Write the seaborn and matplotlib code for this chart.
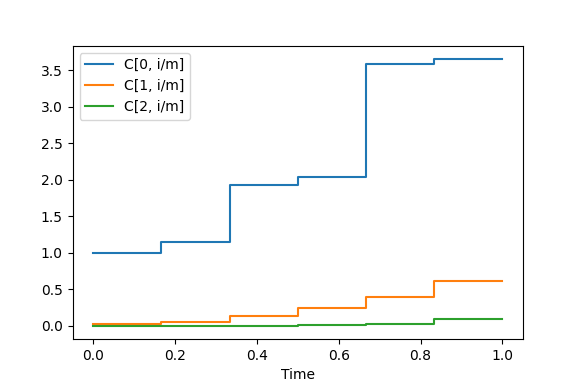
import numpy as np
import pandas as pd
import matplotlib
matplotlib.use("Agg")
import matplotlib.pyplot as plt
import seaborn as sns

# Step breakpoints (time) and the value held from each breakpoint on
time = [0.0, 1/6, 2/6, 3/6, 4/6, 5/6, 1.0]
c0 = [1.00, 1.15, 1.93, 2.03, 3.58, 3.65, 3.65]
c1 = [0.03, 0.05, 0.14, 0.24, 0.39, 0.61, 0.61]
c2 = [0.00, 0.003, 0.003, 0.005, 0.02, 0.09, 0.09]
labels = ["C[0, i/m]", "C[1, i/m]", "C[2, i/m]"]

df = pd.DataFrame({"Time": time * 3,
                   "value": c0 + c1 + c2,
                   "series": [labels[0]] * len(time) + [labels[1]] * len(time) + [labels[2]] * len(time)})

fig, ax = plt.subplots(figsize=(5.81, 3.88), dpi=100)
fig.subplots_adjust(left=0.125, right=0.9, top=0.882, bottom=0.126)
palette = ["#1f77b4", "#ff7f0e", "#2ca02c"]
sns.lineplot(data=df, x="Time", y="value", hue="series", palette=palette,
             drawstyle="steps-post", ax=ax, linewidth=1.5)
ax.set_ylabel("")
ax.set_xlabel("Time")
ax.legend(loc="upper left")
fig.savefig("out.png", dpi=100)
